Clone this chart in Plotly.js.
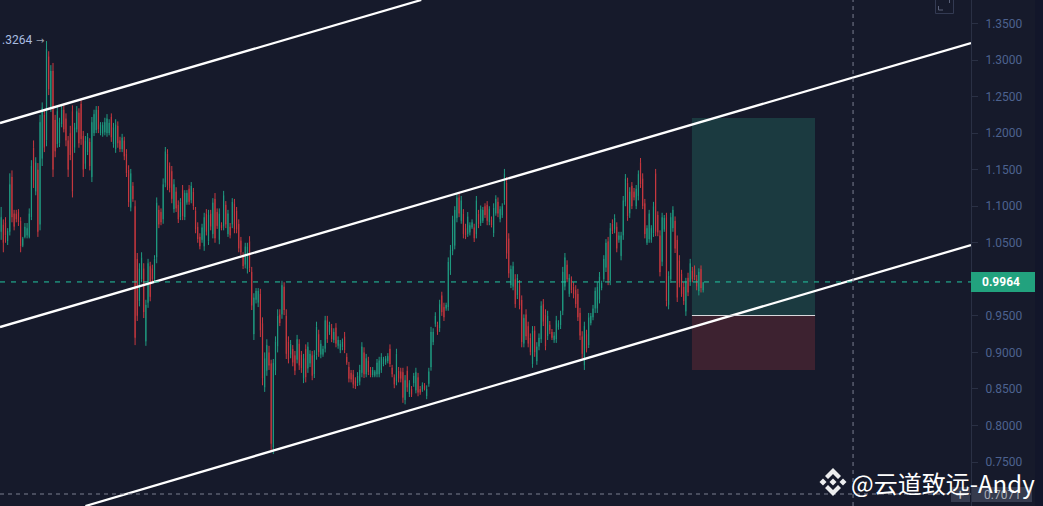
<!DOCTYPE html>
<html><head><meta charset="utf-8">
<script src="https://cdn.plot.ly/plotly-3.0.1.min.js"></script>
<style>html,body{margin:0;padding:0;background:#161a2b;overflow:hidden}#c{width:1043px;height:506px}</style>
</head><body><div id="c"></div>
<script>
const highs=[
1.099,1.082,1.085,1.070,1.145,1.149,1.095,1.095,1.096,1.085,
1.058,1.077,1.077,1.097,1.163,1.190,1.167,1.159,1.225,1.242,
1.232,1.326,1.312,1.293,1.296,1.225,1.236,1.221,1.238,1.238,
1.227,1.196,1.210,1.238,1.214,1.237,1.234,1.245,1.203,1.196,
1.200,1.193,1.222,1.232,1.237,1.237,1.215,1.215,1.221,1.226,
1.219,1.227,1.214,1.219,1.216,1.195,1.199,1.195,1.178,1.156,
1.151,1.133,1.108,1.036,1.022,1.037,1.022,0.972,1.028,1.024,
1.020,1.033,1.112,1.101,1.097,1.138,1.181,1.178,1.160,1.155,
1.137,1.126,1.108,1.111,1.129,1.122,1.122,1.129,1.133,1.125,
1.099,1.078,1.063,1.076,1.091,1.096,1.095,1.095,1.111,1.118,
1.097,1.097,1.078,1.121,1.107,1.095,1.077,1.111,1.110,1.099,
1.082,1.058,1.037,1.050,1.050,1.059,1.017,0.981,0.988,0.988,
0.987,0.948,0.900,0.918,0.909,0.890,0.891,0.922,0.959,0.959,
0.998,0.996,0.959,0.922,0.917,0.910,0.902,0.924,0.918,0.902,
0.898,0.911,0.914,0.903,0.902,0.903,0.942,0.931,0.917,0.909,
0.950,0.950,0.942,0.939,0.933,0.940,0.922,0.917,0.919,0.928,
0.899,0.887,0.876,0.876,0.866,0.873,0.883,0.914,0.907,0.898,
0.894,0.880,0.880,0.876,0.891,0.894,0.899,0.894,0.895,0.899,
0.911,0.883,0.870,0.905,0.880,0.879,0.879,0.869,0.881,0.862,
0.854,0.872,0.879,0.872,0.854,0.859,0.858,0.855,0.879,0.935,
0.933,0.955,0.942,0.972,0.983,0.968,0.968,1.030,1.047,1.087,
1.100,1.118,1.118,1.114,1.096,1.076,1.092,1.078,1.082,1.076,
1.114,1.095,1.101,1.099,1.104,1.107,1.100,1.086,1.104,1.115,
1.112,1.100,1.104,1.151,1.140,1.063,1.019,1.024,1.007,1.007,
0.999,0.978,0.952,0.959,0.942,0.926,0.936,0.936,0.914,0.926,
0.970,0.973,0.959,0.957,0.943,0.932,0.928,0.950,0.944,0.957,
1.017,1.036,1.026,1.007,1.004,0.996,0.992,0.987,0.961,0.929,
0.942,0.931,0.954,0.954,0.965,0.989,0.996,1.010,0.998,1.033,
1.055,1.058,1.077,1.082,1.089,1.078,1.065,1.065,1.114,1.144,
1.139,1.126,1.133,1.125,1.129,1.149,1.166,1.145,1.110,1.074,
1.095,1.074,1.106,1.151,1.093,1.067,1.091,1.088,1.091,1.011,
1.091,1.100,1.086,1.060,1.033,1.013,0.996,1.002,1.009,1.028,
1.017,1.019,1.006,1.015,1.019,0.996];
const lows=[
1.054,1.037,1.050,1.047,1.060,1.078,1.067,1.078,1.073,1.037,
1.044,1.056,1.056,1.056,1.081,1.125,1.115,1.058,1.067,1.155,
1.174,1.182,1.252,1.229,1.140,1.167,1.180,1.181,1.208,1.201,
1.182,1.140,1.163,1.112,1.173,1.201,1.180,1.184,1.140,1.151,
1.170,1.149,1.133,1.196,1.200,1.200,1.197,1.195,1.197,1.195,
1.197,1.188,1.180,1.173,1.180,1.174,1.174,1.163,1.140,1.099,
1.093,1.106,0.910,0.943,0.963,0.996,0.947,0.909,0.961,0.970,
0.995,0.996,1.022,1.070,1.074,1.076,1.126,1.122,1.119,1.104,
1.091,1.092,1.077,1.081,1.081,1.081,1.102,1.102,1.104,1.095,
1.063,1.050,1.041,1.050,1.039,1.060,1.047,1.067,1.056,1.050,
1.069,1.048,1.067,1.067,1.070,1.058,1.056,1.070,1.063,1.063,
1.037,1.033,1.014,1.015,1.008,1.010,0.958,0.917,0.967,0.962,
0.921,0.855,0.846,0.868,0.876,0.764,0.761,0.869,0.900,0.936,
0.946,0.951,0.891,0.885,0.892,0.881,0.869,0.885,0.876,0.872,
0.858,0.859,0.872,0.880,0.862,0.865,0.890,0.894,0.892,0.894,
0.900,0.913,0.924,0.914,0.913,0.907,0.905,0.899,0.903,0.899,
0.883,0.859,0.859,0.851,0.850,0.854,0.855,0.866,0.865,0.866,
0.869,0.866,0.866,0.866,0.866,0.866,0.872,0.881,0.883,0.885,
0.880,0.866,0.851,0.855,0.859,0.859,0.831,0.829,0.846,0.839,
0.839,0.853,0.844,0.840,0.842,0.846,0.848,0.836,0.853,0.875,
0.910,0.935,0.924,0.928,0.950,0.943,0.957,0.957,1.006,1.033,
1.041,1.078,1.085,1.076,1.056,1.055,1.058,1.060,1.069,1.051,
1.056,1.070,1.073,1.077,1.084,1.074,1.074,1.071,1.058,1.087,
1.085,1.078,1.084,1.102,1.028,1.002,0.988,0.985,0.961,0.973,
0.959,0.907,0.907,0.917,0.907,0.896,0.879,0.894,0.883,0.903,
0.913,0.936,0.903,0.917,0.925,0.917,0.913,0.913,0.931,0.932,
0.951,0.985,0.996,0.976,0.981,0.974,0.961,0.943,0.917,0.892,
0.876,0.900,0.906,0.937,0.944,0.954,0.954,0.967,0.985,0.996,
1.010,0.992,0.992,1.062,1.063,1.037,1.050,1.026,1.054,1.100,
1.080,1.084,1.096,1.108,1.096,1.108,1.125,1.096,1.056,1.047,
1.050,1.050,1.058,1.059,1.059,1.004,1.018,1.065,0.963,0.959,
0.995,1.065,1.036,0.969,0.989,0.976,0.965,0.950,0.977,0.991,
0.996,0.999,0.985,0.978,0.982,0.982];
const opens=[
1.065,1.075,1.078,1.052,1.065,1.140,1.090,1.090,1.092,1.080,
1.046,1.058,1.060,1.058,1.085,1.180,1.120,1.150,1.075,1.165,
1.225,1.190,1.305,1.235,1.285,1.218,1.185,1.186,1.212,1.232,
1.220,1.190,1.200,1.230,1.180,1.205,1.228,1.240,1.196,1.158,
1.174,1.188,1.140,1.200,1.204,1.232,1.200,1.199,1.201,1.200,
1.200,1.222,1.185,1.178,1.210,1.190,1.178,1.190,1.172,1.150,
1.098,1.128,1.100,1.028,0.970,1.000,1.015,0.915,0.968,1.018,
1.015,1.000,1.030,1.095,1.092,1.082,1.132,1.172,1.155,1.148,
1.096,1.120,1.102,1.085,1.122,1.085,1.105,1.124,1.108,1.120,
1.094,1.072,1.058,1.054,1.045,1.090,1.052,1.090,1.062,1.110,
1.092,1.054,1.075,1.072,1.102,1.062,1.072,1.075,1.104,1.094,
1.076,1.053,1.032,1.020,1.014,1.052,1.010,0.925,0.972,0.968,
0.980,0.940,0.852,0.875,0.900,0.885,0.770,0.875,0.908,0.952,
0.952,0.990,0.950,0.915,0.897,0.905,0.896,0.890,0.912,0.897,
0.864,0.905,0.878,0.885,0.896,0.870,0.896,0.925,0.897,0.897,
0.905,0.944,0.928,0.934,0.917,0.934,0.909,0.903,0.907,0.922,
0.894,0.880,0.872,0.870,0.862,0.858,0.860,0.872,0.900,0.870,
0.889,0.876,0.869,0.868,0.870,0.870,0.876,0.884,0.886,0.888,
0.905,0.879,0.866,0.860,0.875,0.874,0.873,0.835,0.875,0.843,
0.850,0.858,0.848,0.866,0.850,0.849,0.855,0.840,0.857,0.880,
0.914,0.939,0.938,0.933,0.978,0.962,0.960,0.962,1.012,1.038,
1.046,1.084,1.112,1.080,1.090,1.070,1.062,1.064,1.071,1.071,
1.062,1.090,1.077,1.080,1.100,1.102,1.078,1.082,1.063,1.090,
1.106,1.082,1.088,1.108,1.132,1.056,0.992,0.990,1.000,0.978,
0.992,0.972,0.912,0.952,0.936,0.920,0.884,0.930,0.888,0.908,
0.918,0.966,0.952,0.922,0.938,0.928,0.917,0.918,0.934,0.937,
0.957,0.990,1.020,0.980,0.999,0.990,0.986,0.980,0.954,0.922,
0.882,0.925,0.910,0.940,0.948,0.960,0.960,0.972,0.988,1.000,
1.016,1.052,0.998,1.076,1.068,1.072,1.054,1.032,1.060,1.106,
1.132,1.090,1.128,1.120,1.100,1.114,1.160,1.138,1.104,1.050,
1.055,1.054,1.063,1.145,1.088,1.060,1.024,1.068,1.085,0.965,
1.000,1.070,1.080,1.054,1.026,1.008,0.990,0.956,1.002,0.996,
1.012,1.014,1.000,0.984,1.014,0.985];
const closes=[
1.085,1.050,1.060,1.066,1.130,1.085,1.072,1.082,1.078,1.045,
1.056,1.072,1.070,1.090,1.155,1.135,1.160,1.065,1.215,1.235,
1.180,1.315,1.260,1.285,1.150,1.175,1.230,1.215,1.232,1.205,
1.190,1.150,1.170,1.120,1.208,1.230,1.186,1.192,1.150,1.190,
1.195,1.155,1.215,1.226,1.232,1.205,1.212,1.211,1.215,1.220,
1.214,1.194,1.208,1.212,1.186,1.178,1.194,1.168,1.145,1.105,
1.145,1.110,0.920,0.950,1.015,1.030,0.955,0.965,1.022,0.976,
1.000,1.028,1.105,1.075,1.078,1.130,1.175,1.128,1.125,1.110,
1.130,1.097,1.082,1.106,1.086,1.118,1.118,1.106,1.128,1.100,
1.068,1.055,1.045,1.071,1.085,1.065,1.088,1.072,1.105,1.056,
1.073,1.090,1.070,1.115,1.075,1.090,1.060,1.106,1.068,1.068,
1.042,1.037,1.018,1.045,1.045,1.015,0.964,0.975,0.984,0.984,
0.930,0.865,0.892,0.910,0.882,0.775,0.886,0.915,0.950,0.940,
0.992,0.958,0.898,0.890,0.912,0.886,0.875,0.918,0.882,0.878,
0.892,0.866,0.908,0.898,0.868,0.897,0.935,0.900,0.912,0.905,
0.944,0.918,0.938,0.918,0.928,0.912,0.917,0.912,0.915,0.903,
0.886,0.864,0.863,0.856,0.854,0.868,0.876,0.908,0.870,0.892,
0.873,0.869,0.876,0.874,0.886,0.889,0.894,0.891,0.892,0.895,
0.884,0.870,0.856,0.898,0.864,0.864,0.838,0.862,0.852,0.858,
0.842,0.868,0.873,0.845,0.845,0.856,0.850,0.850,0.874,0.928,
0.928,0.950,0.928,0.966,0.955,0.948,0.965,1.024,1.040,1.082,
1.095,1.112,1.090,1.108,1.062,1.060,1.086,1.074,1.078,1.056,
1.108,1.075,1.096,1.095,1.088,1.080,1.096,1.074,1.098,1.110,
1.090,1.096,1.100,1.145,1.035,1.008,1.014,1.018,0.966,1.002,
0.964,0.914,0.947,0.922,0.912,0.900,0.930,0.900,0.908,0.920,
0.964,0.942,0.908,0.950,0.930,0.920,0.923,0.944,0.940,0.952,
1.010,1.030,1.000,1.002,0.985,0.979,0.966,0.948,0.923,0.898,
0.936,0.905,0.948,0.950,0.960,0.984,0.990,1.004,0.995,1.028,
1.050,0.998,1.070,1.066,1.084,1.042,1.060,1.060,1.108,1.138,
1.086,1.120,1.100,1.112,1.124,1.144,1.130,1.100,1.062,1.070,
1.090,1.070,1.100,1.065,1.064,1.010,1.085,1.084,0.970,1.005,
1.085,1.095,1.042,0.975,0.995,0.980,0.970,0.996,0.982,1.022,
1.000,1.003,0.990,1.010,0.988,0.996];
const indexes=highs.map((_,i)=>i+1);

const channelX=[[0.46,195.5],[0.46,450],[40,450]];
const channelY=[[1.2138,1.3821],[0.9347,1.3233],[0.6899,1.0469]];
const tickValues=[0.75,0.8,0.85,0.9,0.95,1.05,1.1,1.15,1.2,1.25,1.3,1.35];
const lastPrice=0.9964, crossPrice=0.7071, crossIndex=395.4;
const targetTop=1.2207, entry=0.9505, stopBottom=0.8760, boxStart=320.8, boxEnd=377.8;

const W=971,H=506;
const px=x=>x/W, py=y=>1-y/H;
const pth=pts=>pts.map((p,i)=>(i?'L':'M')+px(p[0]).toFixed(5)+' '+py(p[1]).toFixed(5)).join(' ')+' Z';
const pRect=(x0,y0,x1,y1,fill)=>({type:'rect',xref:'paper',yref:'paper',x0:px(x0),x1:px(x1),y0:py(y0),y1:py(y1),fillcolor:fill,line:{width:0},layer:'above'});
const logo=[
 [[833,468],[841,476],[838,479],[833,474],[828,479],[825,476]],
 [[833,496],[841,488],[838,485],[833,490],[828,485],[825,488]],
 [[833,478.5],[836.5,482],[833,485.5],[829.5,482]],
 [[823,478.5],[826.5,482],[823,485.5],[819.5,482]],
 [[843,478.5],[846.5,482],[843,485.5],[839.5,482]]
].map(p=>({type:'path',xref:'paper',yref:'paper',path:pth(p),fillcolor:'rgba(255,255,255,0.92)',line:{width:0},layer:'above'}));

const shapes=[
 {type:'rect',xref:'x',yref:'y',x0:boxStart,x1:boxEnd,y0:entry,y1:targetTop,fillcolor:'#1b3a40',line:{width:0},layer:'below'},
 {type:'rect',xref:'x',yref:'y',x0:boxStart,x1:boxEnd,y0:stopBottom,y1:entry,fillcolor:'#3d2230',line:{width:0},layer:'below'},
 {type:'line',xref:'x',yref:'y',x0:boxStart,x1:boxEnd,y0:entry,y1:entry,line:{color:'#d8d8dc',width:1},layer:'above'},
 {type:'line',xref:'paper',yref:'y',x0:0,x1:1,y0:lastPrice,y1:lastPrice,line:{color:'#22c7a0',width:1,dash:'5px,6px'},layer:'above'},
 {type:'line',xref:'paper',yref:'y',x0:0,x1:1,y0:crossPrice-0.0008,y1:crossPrice-0.0008,line:{color:'#7a7f90',width:1,dash:'4px,4px'},layer:'above'},
 {type:'line',xref:'x',yref:'paper',x0:crossIndex,x1:crossIndex,y0:0,y1:1,line:{color:'#7a7f90',width:1,dash:'4px,4px'},layer:'above'},
 pRect(1035,0,1043,506,'#12162a'),
 pRect(971,272,1035,292,'#22a27e'),
 pRect(951,487,970,502,'#363b4e'),
 pRect(972,487,1032,502,'#363b4e'),
 {type:'rect',xref:'paper',yref:'paper',x0:px(935.5),x1:px(953.5),y0:py(-2),y1:py(13.5),fillcolor:'rgba(0,0,0,0)',line:{color:'#333a52',width:1},layer:'above'},
 {type:'path',xref:'paper',yref:'paper',path:'M'+px(938.5)+' '+py(6)+' L'+px(938.5)+' '+py(10)+' L'+px(943)+' '+py(10),line:{color:'#5a6178',width:1},layer:'above'},
 {type:'line',xref:'paper',yref:'paper',x0:px(949.5),x1:px(949.5),y0:py(0),y1:py(3),line:{color:'#5a6178',width:1},layer:'above'},
 ...logo
];
const sansF='Roboto, "Liberation Sans", sans-serif';
const ann=(x,y,text,color,size,anchor,extra)=>Object.assign({xref:'paper',yref:'paper',x:px(x),y:py(y),text,showarrow:false,xanchor:anchor||'left',yanchor:'middle',font:{family:sansF,size,color}},extra||{});
const annotations=[
 ann(0,40,'.3264','#a9bde0',12),
 ann(34,41,'→','#9aa0ae',10,'left',{font:{family:'"DejaVu Sans"',size:10,color:'#9aa0ae'}}),
 ann(1001,282,'<b>0.9964</b>','#ffffff',12,'center'),
 ann(1002,494.5,'0.7071','#a7abb6',12,'center'),
 ann(960.5,494.5,'+','#c8cad0',15,'center'),
 ann(849,482,'@云道致远-Andy','#ffffff',24,'left',{font:{family:'"Noto Sans CJK SC", "Noto Sans", sans-serif',size:24,color:'#ffffff'}})
];

const traces=[
 {type:'candlestick',x:indexes,open:opens,high:highs,low:lows,close:closes,
  increasing:{line:{color:'#1f9a80',width:1},fillcolor:'#1f6b5d'},
  decreasing:{line:{color:'#c7383f',width:1},fillcolor:'#7d2c35'},
  whiskerwidth:0,hoverinfo:'skip',showlegend:false}
].concat(channelX.map((x,k)=>({type:'scatter',mode:'lines',x,y:channelY[k],line:{color:'#ffffff',width:2.3},hoverinfo:'skip',showlegend:false})));

const layout={
 width:1043,height:506,margin:{l:0,r:72,t:0,b:0},
 paper_bgcolor:'#161a2b',plot_bgcolor:'#161a2b',showlegend:false,boxgap:0.85,
 xaxis:{range:[0.46,450],showgrid:false,zeroline:false,showticklabels:false,ticks:'',rangeslider:{visible:false},fixedrange:true},
 yaxis:{side:'right',range:[0.6899,1.3821],tickmode:'array',tickvals:tickValues,ticktext:tickValues.map(v=>v.toFixed(4)),
  showgrid:false,zeroline:false,showline:true,linecolor:'#2a3044',linewidth:1,ticks:'outside',ticklen:6,tickcolor:'#2a3044',
  ticklabelstandoff:5,tickfont:{family:sansF,size:12,color:'#4d628f'},fixedrange:true},
 shapes,annotations
};
Plotly.newPlot('c',traces,layout,{displayModeBar:false,staticPlot:true});
</script></body></html>
